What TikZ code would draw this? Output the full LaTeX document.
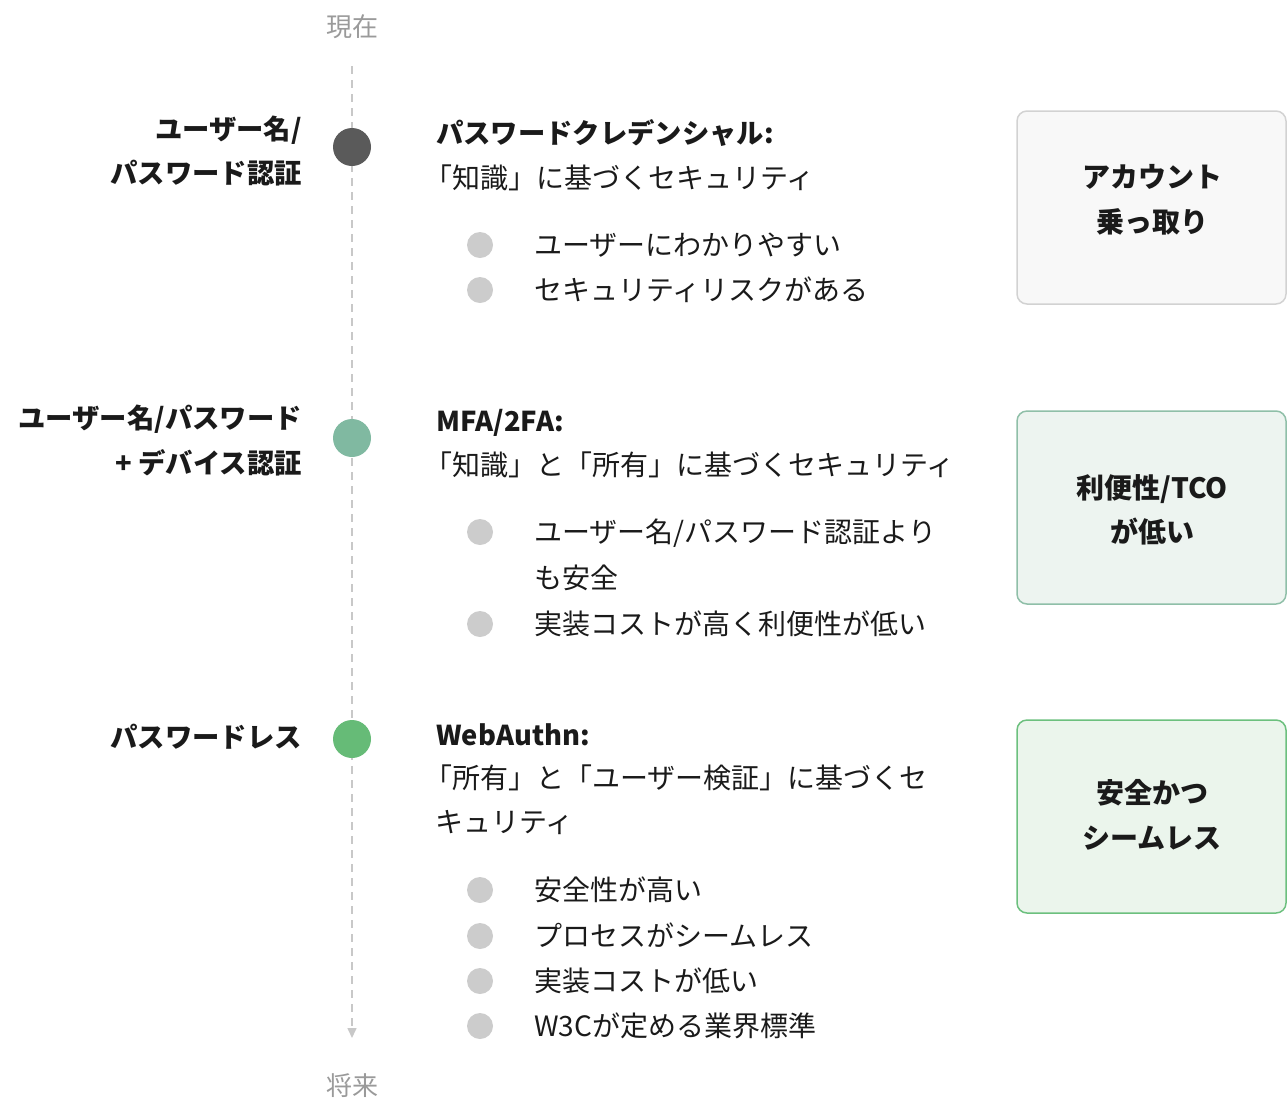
\documentclass[tikz,border=0pt]{standalone}
\usepackage{fontspec}
\setmainfont{Noto Sans CJK JP}
\usetikzlibrary{arrows.meta}
\definecolor{tline}{HTML}{C8C8C8}
\definecolor{tlabel}{HTML}{9A9A9A}
\definecolor{dotA}{HTML}{5A5A5A}
\definecolor{dotB}{HTML}{80B9A1}
\definecolor{dotC}{HTML}{66BB77}
\definecolor{bul}{HTML}{CCCCCC}
\definecolor{boxAfill}{HTML}{F8F8F8}
\definecolor{boxAdraw}{HTML}{D2D2D2}
\definecolor{boxBfill}{HTML}{EDF4F0}
\definecolor{boxBdraw}{HTML}{8FBFA8}
\definecolor{boxCfill}{HTML}{EBF5EC}
\definecolor{boxCdraw}{HTML}{6CC07E}
\definecolor{ink}{HTML}{1A1A1A}
\begin{document}
\begin{tikzpicture}[x=0.75pt,y=-0.75pt,
  txt/.style={inner sep=0pt,text height=15.5pt,text depth=0pt,font=\fontsize{21}{30}\selectfont,text=ink},
  body/.style={txt,anchor=west},
  head/.style={txt,anchor=west,font=\fontsize{20.5}{30}\selectfont\bfseries},
  lab/.style={txt,anchor=east,font=\fontsize{20.5}{30}\selectfont\bfseries},
  boxtxt/.style={txt,anchor=center,font=\fontsize{21}{30}\selectfont\bfseries},
  tl/.style={txt,anchor=center,font=\fontsize{19.5}{26}\selectfont,text=tlabel},
  milestone/.style={circle,minimum size=28.5pt,inner sep=0pt},
  bulletdot/.style={circle,fill=bul,minimum size=19.5pt,inner sep=0pt},
  result/.style={rounded corners=7.5pt,line width=1.125pt,minimum width=201.75pt,minimum height=144.75pt,inner sep=0pt}
]
\useasboundingbox (0,0) rectangle (1288,1097);

% timeline
\node[tl] (now) at (352,26) {現在};
\node[tl] (future) at (352,1085) {将来};
\coordinate (tstart) at (352,66);
\coordinate (tend) at (352,1038);
\draw[tline,line width=1.125pt,dash pattern=on 6pt off 4.5pt,-{Triangle[width=6.75pt,length=7.5pt]}] (tstart) -- (tend);

\node[milestone,fill=dotA] (m1) at (352,147) {};
\node[milestone,fill=dotB] (m2) at (352,438) {};
\node[milestone,fill=dotC] (m3) at (352,739) {};

% left labels
\node[lab] (l1a) at (302,129) {ユーザー名/};
\node[lab] (l1b) at (302,173) {パスワード認証};
\node[lab] (l2a) at (302,418) {ユーザー名/パスワード};
\node[lab] (l2b) at (302,463) {+ デバイス認証};
\node[lab] (l3a) at (302,737) {パスワードレス};

% section 1
\node[head] (h1) at (436,133) {パスワードクレデンシャル:};
\node[body] (s1) at (424,178) {「知識」に基づくセキュリティ};
\node[bulletdot] (b11) at (480,245) {};
\node[body] (t11) at (534,245) {ユーザーにわかりやすい};
\node[bulletdot] (b12) at (480,290) {};
\node[body] (t12) at (534,290) {セキュリティリスクがある};

% section 2
\node[head] (h2) at (436,421) {MFA/2FA:};
\node[body] (s2) at (424,465) {「知識」と「所有」に基づくセキュリティ};
\node[bulletdot] (b21) at (480,532) {};
\node[body] (t21) at (534,532) {ユーザー名/パスワード認証より};
\node[body] (t21b) at (534,578) {も安全};
\node[bulletdot] (b22) at (480,624) {};
\node[body] (t22) at (534,624) {実装コストが高く利便性が低い};

% section 3
\node[head] (h3) at (436,735) {WebAuthn:};
\node[body] (s3a) at (424,778) {「所有」と「ユーザー検証」に基づくセ};
\node[body] (s3b) at (435,822) {キュリティ};
\node[bulletdot] (b31) at (480,890) {};
\node[body] (t31) at (534,890) {安全性が高い};
\node[bulletdot] (b32) at (480,936) {};
\node[body] (t32) at (534,936) {プロセスがシームレス};
\node[bulletdot] (b33) at (480,981) {};
\node[body] (t33) at (534,981) {実装コストが低い};
\node[bulletdot] (b34) at (480,1026) {};
\node[body] (t34) at (534,1026) {W3Cが定める業界標準};

% result boxes
\node[result,draw=boxAdraw,fill=boxAfill] (r1) at (1151.5,207.5) {};
\node[boxtxt] (r1a) at (1152,177) {アカウント};
\node[boxtxt] (r1b) at (1152,222) {乗っ取り};
\node[result,draw=boxBdraw,fill=boxBfill] (r2) at (1151.5,507.5) {};
\node[boxtxt] (r2a) at (1152,488) {利便性/TCO};
\node[boxtxt] (r2b) at (1152,532) {が低い};
\node[result,draw=boxCdraw,fill=boxCfill] (r3) at (1151.5,816.5) {};
\node[boxtxt] (r3a) at (1152,793) {安全かつ};
\node[boxtxt] (r3b) at (1152,838) {シームレス};
\end{tikzpicture}
\end{document}
